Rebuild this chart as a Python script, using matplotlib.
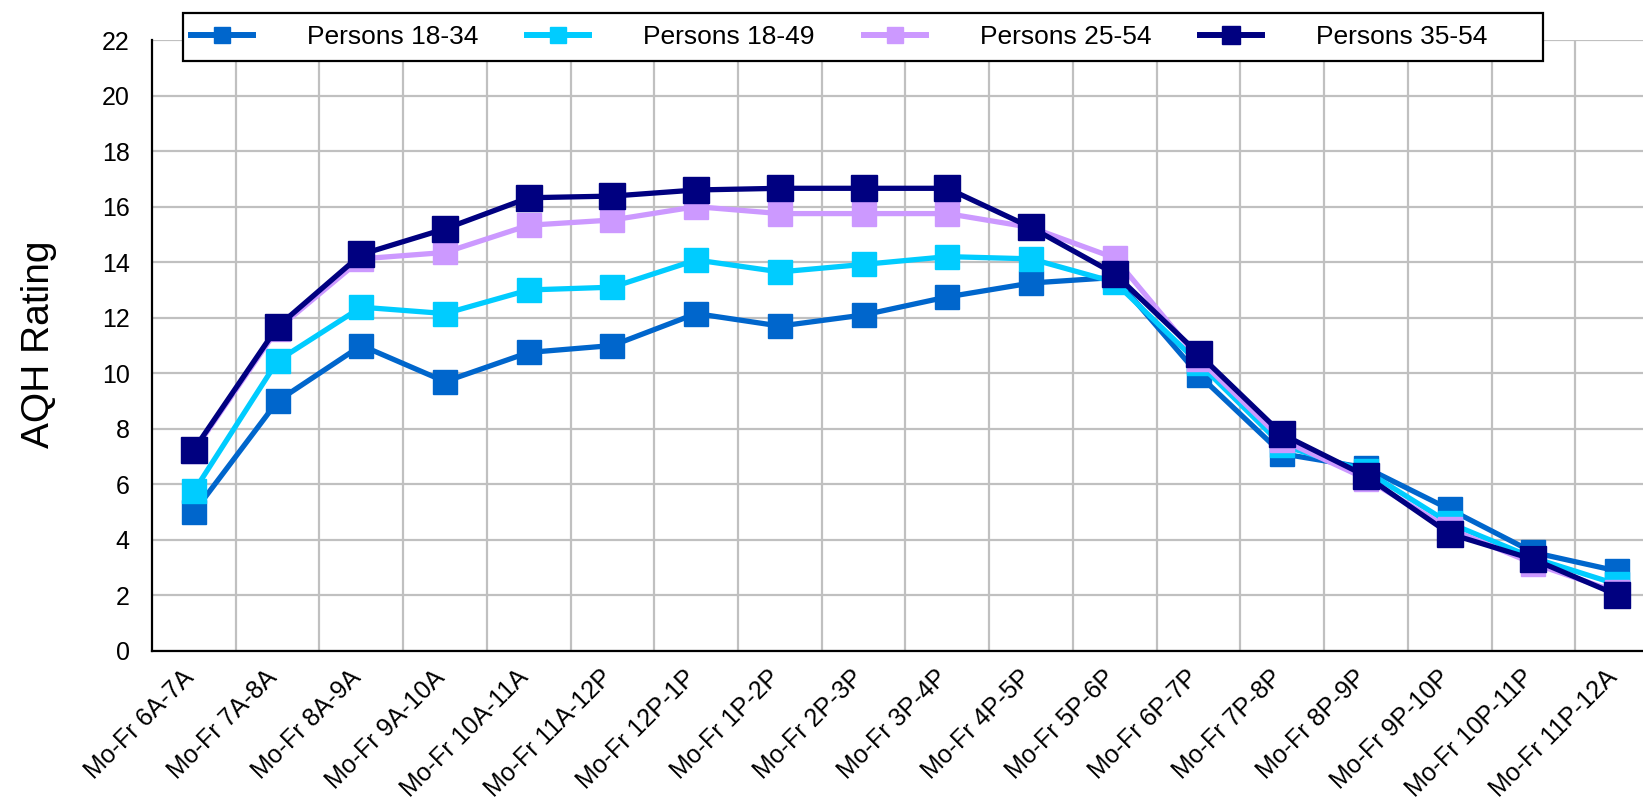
import matplotlib
matplotlib.use("Agg")
import matplotlib.pyplot as plt
import matplotlib.transforms as mtransforms
from matplotlib.patches import Rectangle
import numpy as np

plt.rcParams['font.family'] = ['Liberation Sans', 'DejaVu Sans']

categories = ["Mo-Fr 6A-7A", "Mo-Fr 7A-8A", "Mo-Fr 8A-9A", "Mo-Fr 9A-10A",
              "Mo-Fr 10A-11A", "Mo-Fr 11A-12P", "Mo-Fr 12P-1P", "Mo-Fr 1P-2P",
              "Mo-Fr 2P-3P", "Mo-Fr 3P-4P", "Mo-Fr 4P-5P", "Mo-Fr 5P-6P",
              "Mo-Fr 6P-7P", "Mo-Fr 7P-8P", "Mo-Fr 8P-9P", "Mo-Fr 9P-10P",
              "Mo-Fr 10P-11P", "Mo-Fr 11P-12A"]

p18_34 = [5.0, 9.0, 11.0, 9.7, 10.75, 11.0, 12.15, 11.7, 12.1, 12.75,
          13.25, 13.45, 9.95, 7.1, 6.6, 5.1, 3.55, 2.88]
p18_49 = [5.75, 10.45, 12.38, 12.15, 13.0, 13.1, 14.08, 13.65, 13.92, 14.2,
          14.12, 13.28, 10.37, 7.4, 6.48, 4.6, 3.35, 2.4]
p25_54 = [7.2, 11.6, 14.12, 14.35, 15.33, 15.52, 16.0, 15.75, 15.75, 15.75,
          15.25, 14.15, 10.53, 7.6, 6.2, 4.4, 3.15, 2.12]
p35_54 = [7.25, 11.68, 14.28, 15.2, 16.32, 16.38, 16.6, 16.66, 16.66, 16.66,
          15.25, 13.58, 10.7, 7.8, 6.3, 4.22, 3.3, 2.02]

series_labels = ["Persons 18-34", "Persons 18-49", "Persons 25-54", "Persons 35-54"]
series_values = [p18_34, p18_49, p25_54, p35_54]
colors = ["#0066CC", "#00CCFF", "#CC99FF", "#000080"]
msizes = [17, 17, 17, 19]

W, H = 1643, 800
fig = plt.figure(figsize=(W / 100, H / 100), dpi=100)
ax = fig.add_axes([152 / W, (H - 651) / H, (1659 - 152) / W, (651 - 40) / H])

x = np.arange(len(categories))
for vals, lab, col, ms in zip(series_values, series_labels, colors, msizes):
    ax.plot(x, vals, color=col, lw=3.8, marker='s', ms=ms, mec=col, mfc=col,
            label=lab, solid_joinstyle='miter', zorder=3)

ax.set_xlim(-0.5, len(categories) - 0.5)
ax.set_ylim(0, 22)
ax.set_yticks(np.arange(0, 23, 2))
ax.set_xticks(x)
ax.set_xticks(np.arange(0.5, len(categories) - 0.5, 1), minor=True)
ax.set_xticklabels(categories, rotation=45, ha='right', va='center',
                   rotation_mode='anchor', fontsize=18)
ax.tick_params(axis='x', which='both', length=0, pad=16.5)
ax.tick_params(axis='y', length=0, pad=16, labelsize=18)
shift = mtransforms.ScaledTranslation(-4 / 100, 0, fig.dpi_scale_trans)
for lbl in ax.get_xticklabels():
    lbl.set_transform(lbl.get_transform() + shift)

ax.grid(True, axis='y', color='#C0C0C0', lw=1.6, zorder=0)
ax.grid(True, axis='x', which='minor', color='#C0C0C0', lw=1.6, zorder=0)
ax.grid(False, axis='x', which='major')
ax.set_axisbelow(True)

for s in ['top', 'right']:
    ax.spines[s].set_visible(False)
for s in ['left', 'bottom']:
    ax.spines[s].set_color('black')
    ax.spines[s].set_linewidth(1.6)
    ax.spines[s].set_zorder(4)

fig.text(39 / W, 1 - 344 / H, "AQH Rating", rotation=90, fontsize=28,
         ha='center', va='center')

# legend frame
fig.patches.append(Rectangle((183 / W, 1 - 61 / H), (1543 - 183) / W, 48 / H,
                             transform=fig.transFigure, facecolor='white',
                             edgecolor='black', lw=1.6, zorder=5))
leg = fig.legend(loc='center left', bbox_to_anchor=(191 / W, 1 - 37 / H),
                 ncol=4, fontsize=19, frameon=False, borderpad=0,
                 handlelength=2.35, handletextpad=2.05, columnspacing=1.85,
                 numpoints=1, markerscale=0.7, borderaxespad=0)
leg.set_zorder(6)
for h in leg.legend_handles:
    h.set_linewidth(4.3)

fig.savefig("out.png", dpi=100, facecolor='white')
